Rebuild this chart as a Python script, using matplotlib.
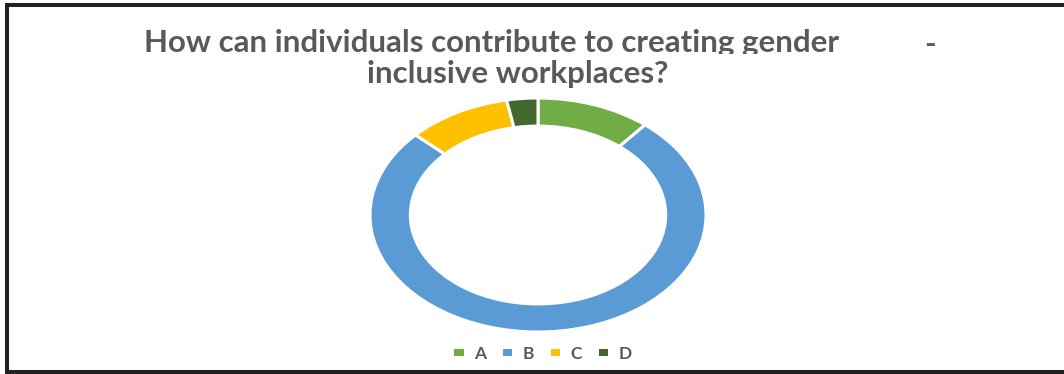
import numpy as np
import matplotlib.pyplot as plt
from matplotlib.patches import Patch, Rectangle
from matplotlib.lines import Line2D

plt.rcParams['font.family'] = ['Lato', 'DejaVu Sans']

labels = ['A', 'B', 'C', 'D']
shares = [11, 76, 10, 3]
colors = ['#70AD47', '#5B9BD5', '#FFC000', '#43682B']
title_line1 = 'How can individuals contribute to creating gender'
title_line2 = 'inclusive workplaces?'

W, H = 1064, 374
fig = plt.figure(figsize=(W / 100, H / 100), dpi=100)
fig.patch.set_facecolor('white')

# doughnut drawn in an axes that is wider than tall, so the ring comes out oval
ax = fig.add_axes([370 / W, (H - 332) / H, 336 / W, 234 / H])
ax.pie(shares, colors=colors, startangle=90, counterclock=False, radius=1,
       wedgeprops=dict(width=0.24, edgecolor='white', linewidth=2.2))
ax.set_aspect('auto')
ax.set_xlim(-1.0, 1.0)
ax.set_ylim(-1.0, 1.0)
ax.axis('off')

# title, first line is clipped at its baseline
grey = '#595959'
t1 = fig.text(492 / W, 1 - 43 / H, title_line1, ha='center', va='center',
              fontsize=22.5, fontweight='bold', color=grey)
clip = Rectangle((0, 1 - 54 / H), 1, 54 / H, transform=fig.transFigure,
                 facecolor='none', edgecolor='none')
fig.add_artist(clip)
t1.set_clip_path(clip)
fig.text(518 / W, 1 - 74 / H, title_line2, ha='center', va='center',
         fontsize=22.5, fontweight='bold', color=grey)
fig.text(930 / W, 1 - 45 / H, '-', ha='center', va='center',
         fontsize=22.5, fontweight='bold', color=grey)

handles = [Patch(facecolor=c, edgecolor='none') for c in colors]
fig.legend(handles, labels, loc='center', bbox_to_anchor=(543 / W, 1 - 354 / H),
           ncol=4, frameon=False, prop=dict(size=12.5, weight='bold'),
           labelcolor=grey, handlelength=0.55, handleheight=0.28,
           handletextpad=0.6, columnspacing=0.95)

# frame around the chart
frame = dict(color='#222222', linewidth=2.9, solid_capstyle='butt')
fig.add_artist(Line2D([7 / W, 7 / W], [1 - 5 / H, 1 - 372 / H], **frame))
fig.add_artist(Line2D([5 / W, 1], [1 - 5 / H, 1 - 5 / H], **frame))
fig.add_artist(Line2D([5 / W, 1], [1 - 371.5 / H, 1 - 371.5 / H], **frame))

fig.savefig('out.png', dpi=100)
